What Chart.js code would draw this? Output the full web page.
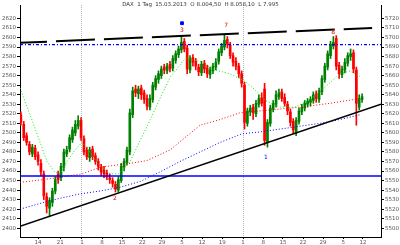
<!DOCTYPE html>
<html>
<head>
<meta charset="utf-8">
<script src="https://cdn.jsdelivr.net/npm/chart.js@4"></script>
<style>
  html, body { margin: 0; padding: 0; background: #fff; }
  canvas { display: block; }
</style>
</head>
<body>
<canvas id="chart" width="400" height="245"></canvas>
<script>
// daily candles, oldest first
const opens = [2519,2509,2497,2488,2478,2484,2477,2468,2457,2433,
  2421,2427,2439,2457,2453,2464,2478,2483,2493,2500,
  2507,2513,2494,2482,2474,2483,2476,2470,2464,2461,
  2458,2453,2450,2446,2440,2450,2464,2469,2480,2519,
  2546,2541,2547,2542,2536,2527,2535,2548,2556,2560,
  2569,2565,2572,2568,2576,2582,2587,2596,2589,2566,
  2579,2575,2569,2563,2573,2568,2561,2565,2569,2575,
  2584,2590,2598,2592,2581,2575,2570,2562,2550,2510,
  2522,2527,2520,2530,2537,2546,2490,2510,2525,2530,
  2538,2543,2537,2530,2522,2512,2500,2512,2522,2526,
  2530,2532,2534,2541,2535,2543,2556,2569,2581,2591,
  2599,2571,2561,2566,2573,2580,2584,2566,2527,2535];
const highs = [2522,2512,2500,2491,2488,2487,2480,2472,2460,2437,
  2432,2442,2454,2460,2468,2483,2486,2498,2506,2513,
  2518,2516,2497,2485,2485,2486,2479,2473,2467,2465,
  2461,2457,2453,2449,2454,2468,2473,2485,2525,2548,
  2550,2549,2550,2545,2540,2540,2553,2560,2565,2570,
  2572,2573,2575,2581,2586,2591,2601,2599,2592,2581,
  2582,2578,2572,2575,2576,2571,2569,2573,2578,2588,
  2594,2603,2601,2595,2584,2579,2573,2565,2553,2526,
  2529,2530,2534,2540,2542,2552,2514,2529,2534,2544,
  2546,2546,2541,2533,2525,2515,2516,2526,2530,2534,
  2536,2538,2543,2544,2547,2560,2573,2586,2596,2601,
  2602,2574,2570,2578,2584,2588,2587,2569,2540,2541];
const lows = [2508,2492,2487,2477,2475,2472,2466,2455,2430,2416,
  2412,2423,2436,2447,2450,2460,2475,2480,2490,2497,
  2504,2492,2477,2472,2470,2472,2467,2461,2455,2453,
  2451,2447,2443,2438,2438,2448,2460,2466,2477,2516,
  2538,2536,2535,2531,2524,2524,2532,2545,2552,2557,
  2562,2562,2564,2565,2573,2579,2584,2585,2562,2563,
  2570,2566,2560,2560,2563,2558,2557,2562,2566,2572,
  2581,2587,2589,2578,2570,2566,2558,2548,2504,2507,
  2518,2514,2517,2527,2528,2487,2485,2507,2522,2527,
  2535,2533,2528,2519,2507,2499,2497,2509,2519,2523,
  2527,2528,2531,2532,2532,2540,2553,2566,2578,2588,
  2566,2557,2558,2563,2570,2576,2563,2508,2524,2532];
const closes = [2511,2495,2490,2480,2485,2475,2470,2459,2434,2423,
  2429,2439,2451,2451,2465,2480,2482,2495,2503,2509,
  2513,2495,2480,2475,2482,2475,2470,2465,2459,2457,
  2454,2451,2447,2441,2451,2465,2470,2482,2521,2544,
  2542,2546,2540,2535,2528,2536,2550,2557,2562,2567,
  2566,2570,2567,2578,2583,2588,2595,2588,2567,2578,
  2574,2570,2564,2572,2567,2562,2566,2570,2574,2585,
  2591,2597,2593,2581,2574,2570,2562,2552,2511,2523,
  2526,2521,2531,2536,2531,2492,2511,2526,2531,2540,
  2542,2536,2531,2523,2511,2503,2513,2523,2527,2531,
  2533,2535,2540,2536,2544,2557,2570,2583,2593,2595,
  2570,2562,2567,2574,2581,2583,2567,2531,2536,2538];

// moving averages, read at sample bars
const fastX = [-0.3,4.2,9.1,11.9,13.7,16.1,18.9,21.3,24.1,27.6,31.1,33.9,38.1,41.6,45.0,48.5,52.0,57.3,62.5,67.7,72.9,78.2,81.7,85.2,90.4,95.6,100.9,106.1,111.3,114.8,118.3];
const fastY = [2547,2511,2470,2459,2457,2470,2482,2490,2480,2465,2457,2457,2470,2492,2513,2536,2558,2578,2575,2566,2562,2554,2545,2534,2527,2527,2535,2548,2562,2565,2559];
const midX = [-0.3,10.2,21.3,27.6,38.1,44.0,52.0,62.5,69.5,76.4,86.9,97.4,107.8,118.3];
const midY = [2448,2452,2457,2464,2468,2471,2482,2508,2514,2521,2524,2527,2531,2536];
const slowX = [-0.3,10.2,20.6,27.6,34.6,41.6,48.5,55.5,62.5,69.5,77.1,83.4,90.4,97.4,104.3,111.3,118.3];
const slowY = [2420,2429,2436,2439,2443,2449,2459,2470,2480,2490,2499,2501,2504,2507,2510,2514,2519];

// drawn lines
const trendX = [-0.3, 125.6];
const trendY = [2402, 2530];
const resistX = [-0.3, 122.5];
const resistY = [2594.5, 2610];
const upperLevel = 2592.5;
const lowerLevel = 2454.7;

// wave counts
const waveBars = [56.2, 71.6, 108.9, 32.8, 85.5];
const waveValues = [2607, 2613, 2605, 2431, 2474];
const waveTexts = ["3", "7", "8", "2", "1"];
const waveColors = ["#e00000", "#e00000", "#e00000", "#e00000", "#0000ff"];
const topMarkX = [56.2];
const topMarkY = [2615];

// axes
const xMin = -0.3, xMax = 125.6;
const yMin = 2390.8, yMax = 2634.1;
const y2Min = 5490.8, y2Max = 5734.1;
const xTickPos = [6.0,13.7,21.3,28.3,35.3,42.3,49.2,56.2,63.2,70.2,77.5,84.5,91.4,98.4,105.4,112.4,119.3];
const xTickLabels = ["14","21","1","8","15","22","29","5","12","19","1","8","15","22","29","5","12"];
const xTickMajor = [2, 10];
const titleText = "DAX  1 Tag  15.03.2013  O 8.004,50  H 8.058,10  L 7.995";

Chart.defaults.font.family = "DejaVu Sans";

const bars = closes.map((_, i) => i);
const candleColors = closes.map((c, i) => c >= opens[i] ? "#008000" : "#ff0000");
const pts = (xs, ys) => xs.map((x, i) => ({ x: x, y: ys[i] }));

const lineStyle = (data, color, width, dash) => ({
  type: "line", data: data, borderColor: color, borderWidth: width,
  borderDash: dash, pointRadius: 0, fill: false, order: 0
});

const overlay = {
  id: "overlay",
  afterDatasetsDraw(chart) {
    const { ctx, chartArea } = chart;
    const x = chart.scales.x, y = chart.scales.y;
    ctx.save();
    ctx.font = '6px "DejaVu Sans"';
    ctx.textAlign = "center";
    ctx.textBaseline = "middle";
    waveTexts.forEach((t, i) => {
      ctx.fillStyle = waveColors[i];
      ctx.fillText(t, x.getPixelForValue(waveBars[i]), y.getPixelForValue(waveValues[i]));
    });
    ctx.fillStyle = "#333";
    ctx.font = '5.5px "DejaVu Sans"';
    ctx.fillText(titleText, (chartArea.left + chartArea.right) / 2, 5);
    ctx.restore();
  }
};

const keepTens = s => { s.ticks = s.ticks.filter(t => Math.abs(t.value % 10) < 1e-6); };

new Chart(document.getElementById("chart"), {
  type: "bar",
  data: {
    datasets: [
      lineStyle(pts(trendX, trendY), "#000", 1.5, []),
      Object.assign(lineStyle(pts(resistX, resistY), "#000", 2, [39, 9]), { borderDashOffset: 12 }),
      lineStyle([{ x: xMin, y: upperLevel }, { x: xMax, y: upperLevel }], "#0000ff", 1.2, [3, 2, 1, 2]),
      lineStyle([{ x: xMin, y: lowerLevel }, { x: xMax, y: lowerLevel }], "#0000ff", 1.5, []),
      lineStyle(pts(fastX, fastY), "#00ee00", 1, [1, 2]),
      lineStyle(pts(midX, midY), "#ff0000", 1, [1, 2]),
      lineStyle(pts(slowX, slowY), "#0000ff", 1, [1, 2]),
      {
        type: "scatter", data: pts(topMarkX, topMarkY), pointStyle: "rect",
        pointRadius: 2, backgroundColor: "#0000ff", borderColor: "#0000ff", order: 0
      },
      {
        data: bars.map(i => ({ x: i, y: [opens[i], closes[i]] })),
        backgroundColor: candleColors, barThickness: 2, minBarLength: 1,
        grouped: false, order: 1
      },
      {
        data: bars.map(i => ({ x: i, y: [lows[i], highs[i]] })),
        backgroundColor: candleColors, barThickness: 1,
        grouped: false, order: 2
      }
    ]
  },
  options: {
    responsive: false,
    devicePixelRatio: 1,
    animation: false,
    layout: { padding: 0 },
    plugins: { legend: { display: false }, tooltip: { enabled: false } },
    scales: {
      x: {
        type: "linear", min: xMin, max: xMax, offset: false,
        afterBuildTicks: s => { s.ticks = xTickPos.map(v => ({ value: v })); },
        afterFit: s => { s.height = 8; s.paddingLeft = 0; s.paddingRight = 0; },
        ticks: {
          autoSkip: false, maxRotation: 0, padding: 0,
          font: { size: 5.5 }, color: "#555",
          callback: (v, i) => xTickLabels[i]
        },
        grid: {
          offset: false, tickLength: 2, tickColor: "#000",
          color: c => xTickMajor.includes(c.index) ? "#b4b4b4" : "rgba(0,0,0,0)"
        },
        border: { color: "#000", dash: [1, 1] }
      },
      y: {
        position: "left", min: yMin, max: yMax,
        afterBuildTicks: keepTens,
        afterFit: s => { s.width = 20; s.paddingTop = 0; s.paddingBottom = 0; },
        ticks: { stepSize: 10, padding: 1, font: { size: 5.5 }, color: "#555", callback: v => String(v) },
        grid: { drawOnChartArea: false, tickLength: 3, tickColor: "#000" },
        border: { color: "#000" }
      },
      y2: {
        position: "right", min: y2Min, max: y2Max,
        afterBuildTicks: keepTens,
        afterFit: s => { s.width = 19; s.paddingTop = 0; s.paddingBottom = 0; },
        ticks: { stepSize: 10, padding: 1, font: { size: 5.5 }, color: "#555", callback: v => String(v) },
        grid: { drawOnChartArea: false, tickLength: 3, tickColor: "#000" },
        border: { color: "#000" }
      }
    }
  },
  plugins: [overlay]
});
</script>
</body>
</html>
